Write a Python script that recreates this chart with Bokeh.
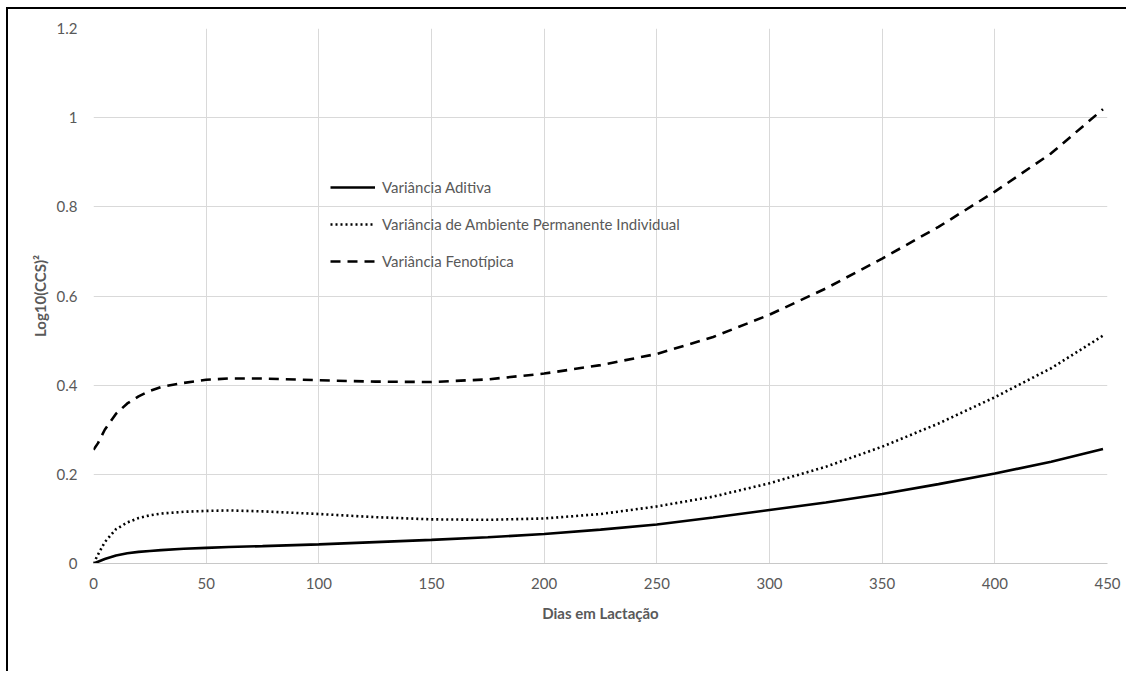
from bokeh.plotting import figure
from bokeh.models import Legend, LegendItem, FixedTicker, Range1d
from bokeh.embed import file_html
from bokeh.resources import INLINE

dias = [0, 2, 5, 10, 15, 20, 25, 30, 40, 50, 60, 75, 100, 125, 150, 175, 200,
        225, 250, 275, 300, 325, 350, 375, 400, 425, 448]
var_aditiva = [0.0, 0.004, 0.010, 0.018, 0.023, 0.026, 0.028, 0.030, 0.033, 0.035,
               0.037, 0.039, 0.043, 0.048, 0.053, 0.059, 0.066, 0.076, 0.0875,
               0.103, 0.120, 0.137, 0.156, 0.178, 0.202, 0.228, 0.257]
var_ambiente = [0.0, 0.020, 0.048, 0.077, 0.092, 0.102, 0.108, 0.112, 0.116, 0.118,
                0.119, 0.117, 0.111, 0.104, 0.099, 0.098, 0.101, 0.111, 0.128,
                0.150, 0.180, 0.217, 0.262, 0.314, 0.373, 0.438, 0.511]
var_fenotipica = [0.255, 0.270, 0.300, 0.336, 0.359, 0.375, 0.387, 0.396, 0.405, 0.412,
                  0.415, 0.415, 0.411, 0.408, 0.407, 0.413, 0.426, 0.445, 0.470,
                  0.508, 0.558, 0.617, 0.684, 0.755, 0.834, 0.920, 1.019]
x_ticks = [0, 50, 100, 150, 200, 250, 300, 350, 400, 450]
y_ticks = [0, 0.2, 0.4, 0.6, 0.8, 1.0, 1.2]
y_tick_labels = {0: "0", 0.2: "0.2", 0.4: "0.4", 0.6: "0.6", 0.8: "0.8", 1.0: "1", 1.2: "1.2"}
series_names = ["Variância Aditiva",
                "Variância de Ambiente Permanente Individual",
                "Variância Fenotípica"]

FONT = "Lato"
GREY = "#595959"
GRID = "#d9d9d9"

p = figure(width=1120, height=664, output_backend="svg", toolbar_location=None,
           x_range=Range1d(0, 450), y_range=Range1d(0, 1.2),
           min_border_left=85, min_border_top=19, min_border_right=21,
           min_border_bottom=110)
p.styles = {"margin-left": "6px", "margin-top": "7px",
            "border-left": "2px solid black", "border-top": "2px solid black"}
p.outline_line_color = None

p.xaxis.ticker = FixedTicker(ticks=x_ticks)
p.yaxis.ticker = FixedTicker(ticks=y_ticks)
p.yaxis.major_label_overrides = y_tick_labels
p.xgrid.ticker = FixedTicker(ticks=x_ticks)
p.ygrid.ticker = FixedTicker(ticks=y_ticks)
p.grid.grid_line_color = GRID
p.grid.grid_line_width = 1

for ax in (p.xaxis[0], p.yaxis[0]):
    ax.major_tick_line_color = None
    ax.minor_tick_line_color = None
    ax.major_tick_out = 0
    ax.minor_tick_out = 0
    ax.major_label_text_color = GREY
    ax.major_label_text_font = FONT
    ax.major_label_text_font_size = "15px"
    ax.axis_label_text_color = GREY
    ax.axis_label_text_font = FONT
    ax.axis_label_text_font_size = "15px"
    ax.axis_label_text_font_style = "bold"

p.yaxis.axis_line_color = None
p.xaxis.axis_line_color = "#c8c8c8"
p.yaxis.major_label_standoff = 16
p.xaxis.major_label_standoff = 14
p.yaxis.axis_label = "Log10(CCS)²"
p.xaxis.axis_label = "Dias em Lactação"
p.yaxis.axis_label_standoff = 5
p.xaxis.axis_label_standoff = 12

r1 = p.line(dias, var_aditiva, line_color="black", line_width=2.6)
r2 = p.line(dias, var_ambiente, line_color="black", line_width=2.6, line_dash="2 3")
r3 = p.line(dias, var_fenotipica, line_color="black", line_width=2.6, line_dash="10 7")

legend = Legend(items=[LegendItem(label=series_names[0], renderers=[r1]),
                       LegendItem(label=series_names[1], renderers=[r2]),
                       LegendItem(label=series_names[2], renderers=[r3])],
                location=(237, 292), orientation="vertical",
                glyph_width=45, glyph_height=20, label_height=20,
                label_standoff=7, spacing=17, padding=0, margin=0,
                border_line_color=None, background_fill_alpha=0,
                label_text_color=GREY, label_text_font=FONT,
                label_text_font_size="15px")
p.add_layout(legend, "center")

open("out.html", "w").write(file_html(p, INLINE))
